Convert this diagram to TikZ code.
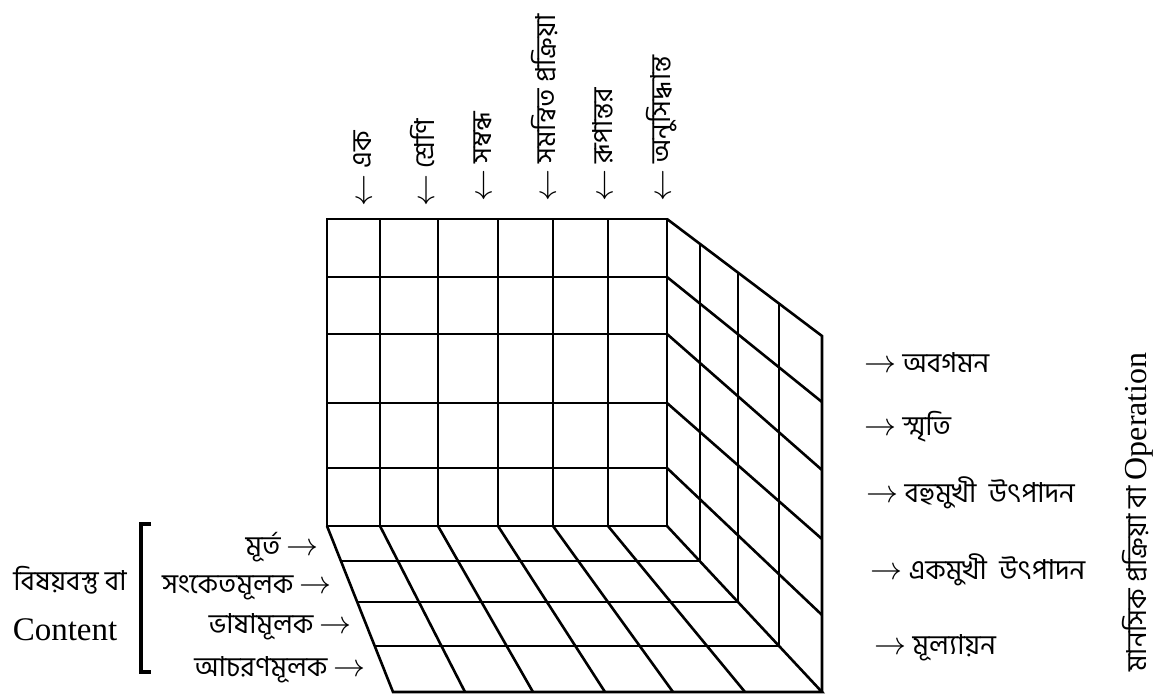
\RequirePackage{fix-cm}
\documentclass[tikz,border=0pt]{standalone}
\usepackage{fontspec}
\setmainfont{Liberation Serif}
\newfontfamily\bn[Script=Bengali, Scale=0.86]{Hind Siliguri}
\tikzset{
  lbl/.style={inner sep=0pt, font=\fontsize{32}{38}\selectfont\bn},
  enlbl/.style={inner sep=0pt, font=\fontsize{33}{38}\selectfont}
}
\begin{document}
\begin{tikzpicture}[x=1pt, y=-1pt, line width=2.6pt]
    \useasboundingbox (0,0) rectangle (1160,697);
    % front face
    \draw (327,219) rectangle (667,526);
    \draw (327,277) -- (667,277);
    \draw (327,334) -- (667,334);
    \draw (327,403) -- (667,403);
    \draw (327,468) -- (667,468);
    \draw (380,219) -- (380,526);
    \draw (438,219) -- (438,526);
    \draw (498,219) -- (498,526);
    \draw (553,219) -- (553,526);
    \draw (608,219) -- (608,526);
    % right face
    \draw (667,219) -- (822,336) -- (822,692);
    \draw (667,277) -- (822,402);
    \draw (667,334) -- (822,470);
    \draw (667,403) -- (822,539);
    \draw (667,468) -- (822,615);
    \draw (700,244) -- (700,561);
    \draw (738,273) -- (738,602);
    \draw (779,304) -- (779,646);
    % floor
    \draw (327,526) -- (393,692) -- (822,692) -- (667,526);
    \draw (341,561) -- (700,561);
    \draw (358,602) -- (738,602);
    \draw (375,646) -- (779,646);
    \draw (380,526) -- (465,692);
    \draw (438,526) -- (533,692);
    \draw (498,526) -- (605,692);
    \draw (553,526) -- (673,692);
    \draw (608,526) -- (745,692);
    % products
    \node[lbl, rotate=90, anchor=west] (prod1) at (363,208) {$\leftarrow$ এক};
    \node[lbl, rotate=90, anchor=west] (prod2) at (422,208) {$\leftarrow$ শ্রেণি};
    \node[lbl, rotate=90, anchor=west] (prod3) at (483,203) {$\leftarrow$ সম্বন্ধ};
    \node[lbl, rotate=90, anchor=west] (prod4) at (545,203) {$\leftarrow$ সমন্বিত প্রক্রিয়া};
    \node[lbl, rotate=90, anchor=west] (prod5) at (603,203) {$\leftarrow$ রূপান্তর};
    \node[lbl, rotate=90, anchor=west] (prod6) at (662,203) {$\leftarrow$ অনুসিদ্ধান্ত};
    % operations
    \node[lbl, anchor=west] (op1) at (863,363) {$\rightarrow$ অবগমন};
    \node[lbl, anchor=west] (op2) at (863,427) {$\rightarrow$ স্মৃতি};
    \node[lbl, anchor=west] (op3) at (865,493) {$\rightarrow$ বহুমুখী\ \ উৎপাদন};
    \node[lbl, anchor=west] (op4) at (869,570) {$\rightarrow$ একমুখী\ \ উৎপাদন};
    \node[lbl, anchor=west] (op5) at (873,648) {$\rightarrow$ মূল্যায়ন};
    \node[lbl, rotate=90] (optitle) at (1138,512) {মানসিক প্রক্রিয়া\ বা\ {\rmfamily Operation}};
    % contents
    \node[lbl, anchor=east] (cont1) at (320,547) {মূর্ত $\rightarrow$};
    \node[lbl, anchor=east] (cont2) at (333,588) {সংকেতমূলক $\rightarrow$};
    \node[lbl, anchor=east] (cont3) at (353,627) {ভাষামূলক $\rightarrow$};
    \node[lbl, anchor=east] (cont4) at (367,670) {আচরণমূলক $\rightarrow$};
    \node[lbl] (conttitle) at (70,580) {বিষয়বস্তু\ বা};
    \node[enlbl] (conten) at (65,630) {Content};
    \draw[line width=4pt] (151,524) -- (141,524) -- (141,672) -- (151,672);
\end{tikzpicture}
\end{document}
